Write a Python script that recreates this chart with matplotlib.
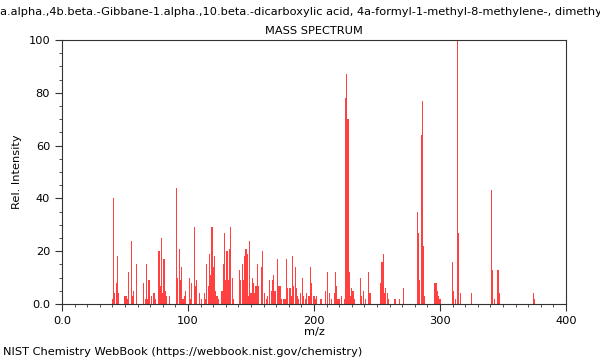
import numpy as np
import matplotlib
matplotlib.use('Agg')
import matplotlib.pyplot as plt
from matplotlib.ticker import MultipleLocator, FixedLocator

compound = ('4a.alpha.,4b.beta.-Gibbane-1.alpha.,10.beta.-dicarboxylic acid, '
            '4a-formyl-1-methyl-8-methylene-, dimethyl ester')

# m/z and relative intensity
mz = [40, 41, 42, 43, 44, 45, 50, 51, 52, 53, 55, 56, 57, 59,
      65, 66, 67, 68, 69, 71, 73, 74, 77, 78, 79, 80, 81, 82, 83, 85,
      91, 92, 93, 94, 95, 96, 97, 98, 101, 102, 103, 105, 106, 107, 109,
      111, 113, 114, 115, 116, 117, 118, 119, 120, 121, 122, 123, 124,
      127, 128, 129, 130, 131, 132, 133, 134, 135, 136,
      141, 142, 143, 144, 145, 146, 147, 148, 149, 150, 151, 152, 153,
      154, 155, 156, 158, 159, 161, 162, 163, 165, 166, 167, 168, 169,
      171, 172, 173, 174, 176, 177, 178, 179, 181, 182, 183, 184, 185,
      186, 187, 188, 189, 191, 192, 193, 194, 196, 197, 198, 200, 201,
      202, 205, 206, 209, 211, 212, 214, 216, 217, 218, 219, 220, 222,
      224, 225, 226, 227, 228, 229, 230, 231, 232, 237, 238, 239, 241,
      243, 244, 245, 253, 254, 255, 256, 257, 258, 259, 264, 265, 268,
      271, 282, 283, 284, 285, 286, 287, 288, 296, 297, 298, 299, 300,
      310, 311, 312, 314, 315, 316, 325, 341, 342, 343, 346, 347, 374, 375]
intensity = [2, 40, 4, 8, 18, 4, 3, 3, 2, 12, 24, 3, 5, 15,
             8, 2, 15, 2, 9, 3, 4, 2, 20, 7, 25, 4, 17, 5, 3, 3,
             44, 10, 21, 9, 14, 2, 3, 5, 10, 2, 8, 29, 7, 9, 4,
             2, 4, 2, 15, 7, 19, 11, 29, 14, 18, 5, 3, 2,
             5, 15, 27, 9, 20, 9, 21, 29, 10, 2,
             13, 9, 15, 9, 18, 21, 19, 3, 24, 4, 10, 8, 4,
             7, 15, 7, 14, 20, 4, 2, 3, 9, 5, 9, 11, 5,
             17, 7, 7, 2, 2, 2, 17, 6, 6, 3, 18, 7, 14,
             6, 3, 2, 4, 10, 3, 2, 4, 3, 14, 8, 3, 2,
             3, 2, 2, 5, 12, 4, 2, 4, 12, 7, 2, 2, 3,
             2, 78, 87, 70, 12, 3, 6, 5, 2, 10, 3, 5, 2,
             12, 4, 4, 8, 16, 19, 4, 6, 4, 2, 2, 2, 2,
             6, 35, 27, 9, 64, 77, 22, 3, 8, 8, 5, 3, 2,
             16, 5, 2, 100, 27, 4, 4, 43, 13, 2, 13, 4, 4, 2]

fs = 8.2
fig = plt.figure(figsize=(6, 3.6), dpi=100)
ax = fig.add_axes([62 / 600, 1 - 304 / 360, 504 / 600, 264 / 360])

ax.bar(mz, intensity, width=0.9, color='#ff0000', alpha=0.75, linewidth=0)

ax.set_xlim(0, 400)
ax.set_ylim(0, 100)
ax.xaxis.set_major_locator(FixedLocator([0, 100, 200, 300, 400]))
ax.set_xticklabels(['0.0', '100', '200', '300', '400'])
ax.xaxis.set_minor_locator(MultipleLocator(10))
ax.yaxis.set_major_locator(FixedLocator([0, 20, 40, 60, 80, 100]))
ax.set_yticklabels(['0.0', '20', '40', '60', '80', '100'])
ax.yaxis.set_minor_locator(MultipleLocator(5))
ax.tick_params(which='major', length=5, labelsize=fs, color='#333333')
ax.tick_params(which='minor', length=2.5, color='#333333')
for s in ax.spines.values():
    s.set_color('#333333')

ax.set_xlabel('m/z', fontsize=fs, labelpad=1)
ax.set_ylabel('Rel. Intensity', fontsize=fs, labelpad=5)
ax.set_title('MASS SPECTRUM', fontsize=fs, pad=4)

fig.text(-0.011, 1 - 12 / 360, compound, fontsize=fs, ha='left', va='center')
fig.text(3 / 600, 1 - 352 / 360, 'NIST Chemistry WebBook (https://webbook.nist.gov/chemistry)',
         fontsize=fs, ha='left', va='center')

fig.savefig('out.png', dpi=100)
